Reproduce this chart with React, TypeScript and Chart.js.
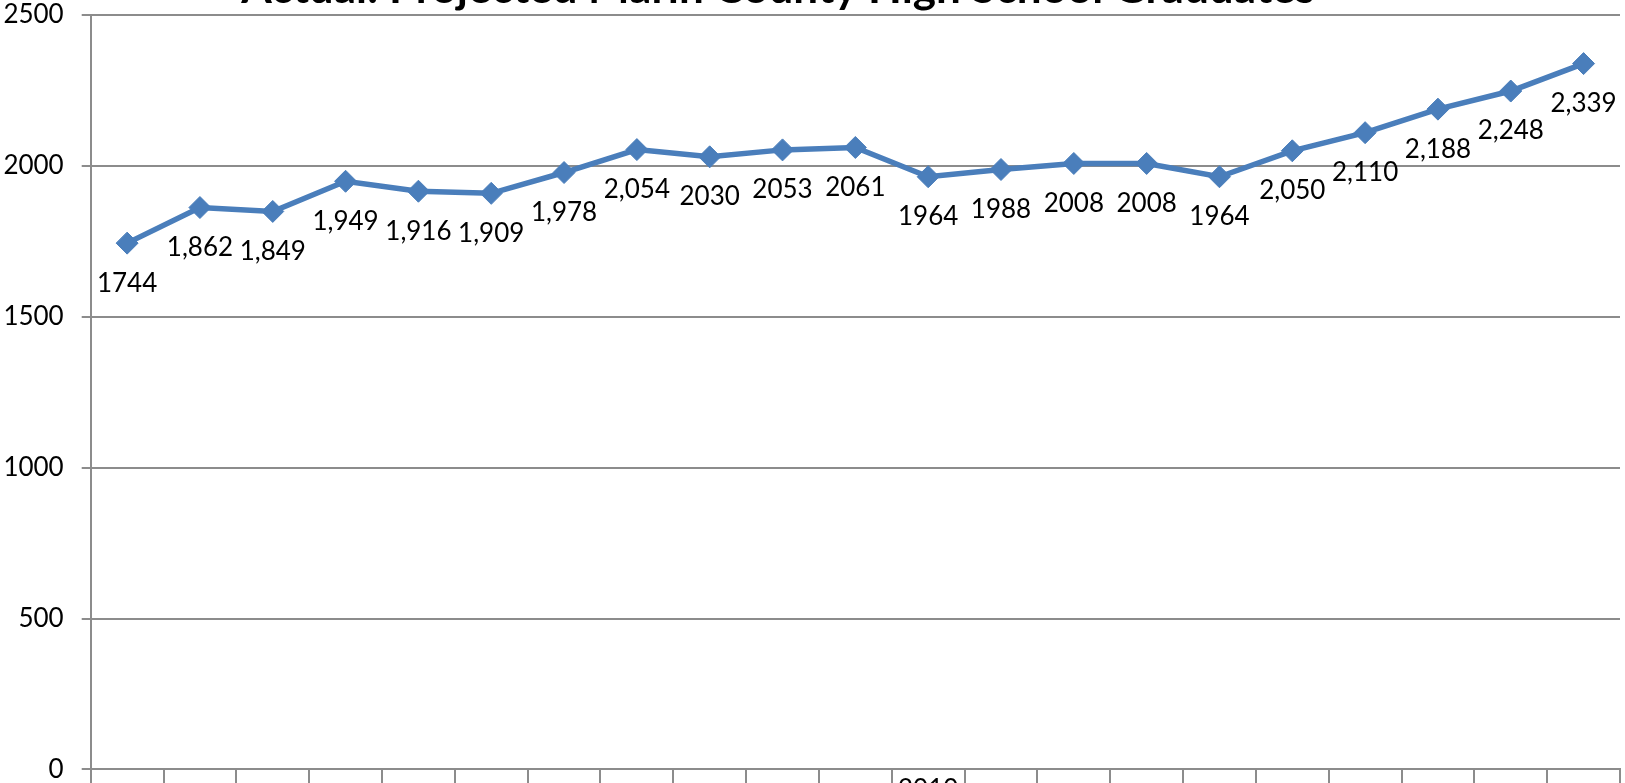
import React, { useEffect, useRef } from "react";
import { Chart, registerables } from "chart.js";

Chart.register(...registerables);

const titleText = "Actual: Projected Marin County High School Graduates";
const categories = ["", "", "", "", "", "", "", "", "", "", "", "2010", "", "", "", "", "", "", "", "", ""];
const graduates = [1744, 1862, 1849, 1949, 1916, 1909, 1978, 2054, 2030, 2053, 2061, 1964, 1988, 2008, 2008, 1964, 2050, 2110, 2188, 2248, 2339];
const pointLabels = ["1744", "1,862", "1,849", "1,949", "1,916", "1,909", "1,978", "2,054", "2030", "2053", "2061", "1964", "1988", "2008", "2008", "1964", "2,050", "2,110", "2,188", "2,248", "2,339"];
const yTickLabels = ["0", "500", "1000", "1500", "2000", "2500"];

const FONT = "'Liberation Sans Narrow', Lato, sans-serif";
const BLUE = "#4A7EBB";
const GRID = "#8C8C8C";

const dataLabelPlugin = {
  id: "pointValueLabels",
  afterDatasetsDraw(chart: any) {
    const meta = chart.getDatasetMeta(0);
    const ctx = chart.ctx;
    ctx.save();
    ctx.font = `26px ${FONT}`;
    ctx.fillStyle = "#000";
    ctx.textAlign = "center";
    ctx.textBaseline = "middle";
    meta.data.forEach((pt: any, i: number) => {
      ctx.fillText(pointLabels[i], pt.x, pt.y + 40);
    });
    ctx.restore();
  },
};

export default function App() {
  const ref = useRef<HTMLCanvasElement | null>(null);
  useEffect(() => {
    document.body.style.overflow = "hidden";
    document.documentElement.style.overflow = "hidden";
    if (!ref.current) return;
    const chart = new Chart(ref.current, {
      type: "line",
      data: {
        labels: categories,
        datasets: [
          {
            data: graduates,
            borderColor: BLUE,
            backgroundColor: BLUE,
            borderWidth: 5.5,
            tension: 0,
            pointStyle: "rectRot",
            pointRadius: 11,
            pointBorderWidth: 1,
            pointBackgroundColor: BLUE,
            pointBorderColor: BLUE,
          },
        ],
      },
      options: {
        animation: false,
        responsive: true,
        maintainAspectRatio: false,
        layout: { padding: 0 },
        plugins: {
          legend: { display: false },
          tooltip: { enabled: false },
          title: {
            display: true,
            text: titleText,
            color: "#000",
            font: { family: FONT, size: 44, weight: "bold", lineHeight: 1 },
            padding: { top: 0, bottom: 4 },
          },
        },
        scales: {
          x: {
            offset: true,
            grid: {
              offset: true,
              drawOnChartArea: false,
              drawTicks: true,
              tickLength: 20,
              color: GRID,
              lineWidth: 2,
            },
            border: { color: GRID, width: 2 },
            ticks: {
              autoSkip: false,
              maxRotation: 0,
              minRotation: 0,
              padding: -15,
              color: "#000",
              font: { family: FONT, size: 26 },
            },
          },
          y: {
            min: 0,
            max: 2500,
            afterFit: (scale: any) => {
              scale.width = 166.7;
            },
            grid: { color: GRID, lineWidth: 2, tickLength: 9 },
            border: { color: GRID, width: 2 },
            ticks: {
              stepSize: 500,
              padding: 18,
              color: "#000",
              font: { family: FONT, size: 26 },
              callback: (_v: any, i: number) => yTickLabels[i],
            },
          },
        },
      },
      plugins: [dataLabelPlugin],
    });
    return () => chart.destroy();
  }, []);
  return (
    <div style={{ position: "absolute", left: -76, top: -33, width: 1708, height: 836 }}>
      <canvas ref={ref} />
    </div>
  );
}
